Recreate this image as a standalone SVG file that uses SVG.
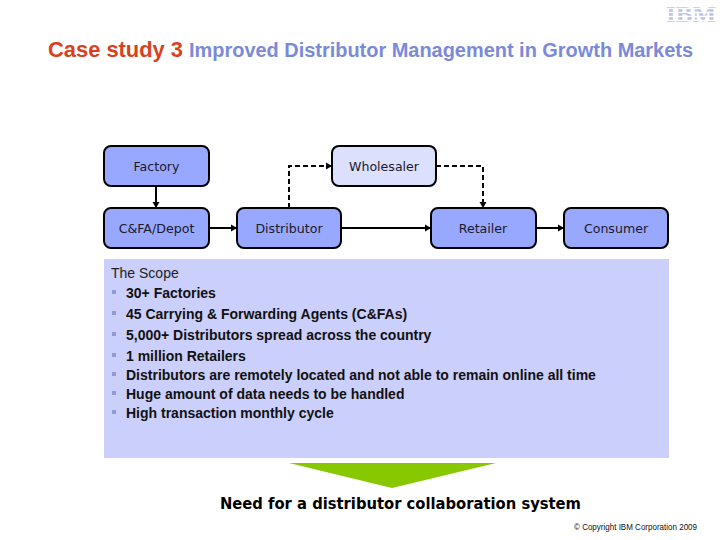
<svg xmlns="http://www.w3.org/2000/svg" width="720" height="540" viewBox="0 0 720 540">
<style>
.box{fill:#99a8ff;stroke:#000;stroke-width:2}
.light{fill:#dbe0fd}
.lbl{font-family:"DejaVu Sans",sans-serif;font-size:12.600px;fill:#1a1a2e;text-anchor:middle}
.c{fill:none;stroke:#000;stroke-width:2}
.d{stroke-dasharray:5 3}
.b{font-family:"Liberation Sans",Arial,sans-serif;font-size:14px;font-weight:bold;fill:#111}
.bul{fill:#8f9bd8}
</style>
<defs><marker id="a" markerUnits="userSpaceOnUse" markerWidth="7" markerHeight="8" refX="6" refY="4" orient="auto"><path d="M0 0.500L6 4L0 7.500Z" fill="#000"/></marker></defs>
<rect width="720" height="540" fill="#fff"/>
<g id="logo">
<text x="691" y="22" font-family="Liberation Serif,serif" font-weight="bold" font-size="24" fill="#b9bfe4" text-anchor="middle" textLength="50" lengthAdjust="spacingAndGlyphs">IBM</text>
<path d="M664 8.500H718M664 12.500H718M664 16.500H718M664 20.500H718" stroke="#fff" stroke-width="1.500"/>
</g>
<g id="title" font-family="Liberation Sans,Arial,sans-serif" font-weight="bold">
<text x="48" y="56.500" fill="#d9411e" font-size="22" textLength="135" lengthAdjust="spacingAndGlyphs">Case study 3</text>
<text x="189" y="56.500" fill="#7b8ad8" font-size="20" textLength="504" lengthAdjust="spacingAndGlyphs">Improved Distributor Management in Growth Markets</text>
</g>
<g id="connectors">
<path class="c" marker-end="url(#a)" d="M156 186V208"/>
<path class="c" marker-end="url(#a)" d="M209 228H237"/>
<path class="c" marker-end="url(#a)" d="M341 228H431"/>
<path class="c" marker-end="url(#a)" d="M536 228H564"/>
<path class="c d" marker-end="url(#a)" d="M289 208V166H332"/>
<path class="c d" marker-end="url(#a)" d="M436 166H483V208"/>
</g>
<g id="factory"><rect class="box" x="104" y="146" width="105" height="40" rx="7"/><text class="lbl" x="156.500" y="171">Factory</text></g>
<g id="wholesaler"><rect class="box light" x="332" y="146" width="104" height="40" rx="7"/><text class="lbl" x="384" y="171">Wholesaler</text></g>
<g id="cfa"><rect class="box" x="104" y="208" width="105" height="40" rx="7"/><text class="lbl" x="156.500" y="233">C&amp;FA/Depot</text></g>
<g id="distributor"><rect class="box" x="237" y="208" width="104" height="40" rx="7"/><text class="lbl" x="289" y="233">Distributor</text></g>
<g id="retailer"><rect class="box" x="431" y="208" width="105" height="40" rx="7"/><text class="lbl" x="483" y="233">Retailer</text></g>
<g id="consumer"><rect class="box" x="564" y="208" width="104" height="40" rx="7"/><text class="lbl" x="616" y="233">Consumer</text></g>
<g id="scope">
<rect x="104" y="259" width="565" height="199" fill="#cbcffb"/>
<text x="111" y="277.500" font-family="Liberation Sans,Arial,sans-serif" font-size="14" fill="#222">The Scope</text>
<rect class="bul" x="112" y="290" width="4" height="4"/><text class="b" x="126" y="297.500">30+ Factories</text>
<rect class="bul" x="112" y="311" width="4" height="4"/><text class="b" x="126" y="318.500">45 Carrying &amp; Forwarding Agents (C&amp;FAs)</text>
<rect class="bul" x="112" y="332" width="4" height="4"/><text class="b" x="126" y="339.500">5,000+ Distributors spread across the country</text>
<rect class="bul" x="112" y="353" width="4" height="4"/><text class="b" x="126" y="360.500">1 million Retailers</text>
<rect class="bul" x="112" y="372" width="4" height="4"/><text class="b" x="126" y="379.500">Distributors are remotely located and not able to remain online all time</text>
<rect class="bul" x="112" y="391" width="4" height="4"/><text class="b" x="126" y="398.500">Huge amount of data needs to be handled</text>
<rect class="bul" x="112" y="410" width="4" height="4"/><text class="b" x="126" y="417.500">High transaction monthly cycle</text>
</g>
<g id="arrow"><polygon points="289,463 496,463 392,488" fill="#88c800"/></g>
<g id="need"><text x="220" y="509" font-family="DejaVu Sans,sans-serif" font-weight="bold" font-size="16" fill="#000" textLength="361" lengthAdjust="spacingAndGlyphs">Need for a distributor collaboration system</text></g>
<g id="copyright"><text x="574" y="530" font-family="Liberation Sans,Arial,sans-serif" font-size="8.500" fill="#111" textLength="123" lengthAdjust="spacingAndGlyphs">© Copyright IBM Corporation 2009</text></g>
</svg>
